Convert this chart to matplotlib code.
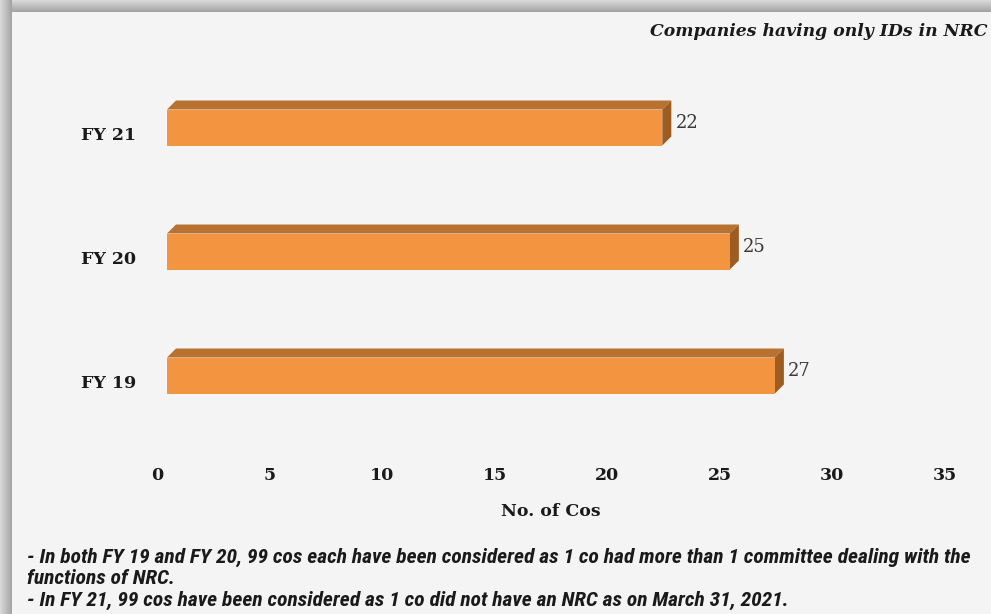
import numpy as np
import matplotlib.pyplot as plt
from matplotlib import font_manager as fm
from matplotlib.patches import Polygon, Rectangle
from matplotlib.transforms import ScaledTranslation

# data
categories = ["FY 19", "FY 20", "FY 21"]
cos_count = [27, 25, 22]
x_ticks = [0, 5, 10, 15, 20, 25, 30, 35]
title = "Companies having only IDs in NRC"
notes = [
    "- In both FY 19 and FY 20, 99 cos each have been considered as 1 co had more than 1 committee dealing with the",
    "functions of NRC.",
    "- In FY 21, 99 cos have been considered as 1 co did not have an NRC as on March 31, 2021.",
]

W, H, DPI = 991, 614, 100
serif = ["DejaVu Serif"]

# pick a narrow sans for the footnotes if one is around
installed = {f.name for f in fm.fontManager.ttflist}
narrow_name = "DejaVu Sans"
for cand in ["Liberation Sans Narrow", "Roboto Condensed", "Open Sans Condensed",
             "Noto Sans Condensed", "DejaVu Sans Condensed", "Arial Narrow"]:
    if cand in installed:
        narrow_name = cand
        break
narrow = [narrow_name, "DejaVu Sans"]

fig = plt.figure(figsize=(W / DPI, H / DPI), dpi=DPI)
fig.patch.set_facecolor("#f4f4f4")

# frame with shaded top and left border
bg = fig.add_axes([0, 0, 1, 1], zorder=-5)
bg.set_xlim(0, W)
bg.set_ylim(H, 0)
bg.axis("off")
grad = np.linspace(0.85, 0.64, 12)
bg.imshow(grad[:, None], cmap="gray", vmin=0, vmax=1, aspect="auto",
          extent=(0, W, 12, 0))
bg.imshow(grad[None, :], cmap="gray", vmin=0, vmax=1, aspect="auto",
          extent=(0, 12, H, 0))
bg.add_patch(Rectangle((12, 12), W - 12, H - 12, facecolor="#f4f4f4",
                       edgecolor="none"))

# plotting area
ax = fig.add_axes([157 / W, 171 / H, 788 / W, 372 / H])
ax.set_facecolor("none")
ax.set_xlim(0, 35)
ax.set_ylim(-0.5, 2.5)
for s in ax.spines.values():
    s.set_visible(False)

ux = 788 / 35          # pixels per x unit
uy = 372 / 3           # pixels per category
ddx, ddy = 9 / ux, 9 / uy   # bar depth
h = 36 / uy                 # bar thickness
shift = ax.transData + ScaledTranslation(10 / DPI, 5.5 / DPI, fig.dpi_scale_trans)

front_c, top_c, side_c = "#f29440", "#b8712f", "#9d5d22"
for pos, val in enumerate(cos_count):
    y0, y1 = pos - h / 2, pos + h / 2
    ax.add_patch(Polygon([(0, y1), (val, y1), (val + ddx, y1 + ddy), (ddx, y1 + ddy)],
                         closed=True, facecolor=top_c, edgecolor="none", transform=shift))
    ax.add_patch(Polygon([(val, y0), (val + ddx, y0 + ddy), (val + ddx, y1 + ddy), (val, y1)],
                         closed=True, facecolor=side_c, edgecolor="none", transform=shift))
    ax.add_patch(Polygon([(0, y0), (val, y0), (val, y1), (0, y1)],
                         closed=True, facecolor=front_c, edgecolor="none", transform=shift))
    ax.annotate(str(val), xy=(val + ddx, pos + ddy / 2), xycoords=shift,
                xytext=(4, 0), textcoords="offset pixels", ha="left", va="center",
                fontsize=13, family=serif, fontweight="medium", color="#3a3a3a")

ax.set_xticks(x_ticks)
ax.set_xticklabels([str(t) for t in x_ticks], family=serif, fontweight="bold",
                   fontsize=12.5, color="#1a1a1a")
ax.set_yticks(range(len(categories)))
ax.set_yticklabels(categories, family=serif, fontweight="bold",
                   fontsize=12.5, color="#1a1a1a")
ax.tick_params(axis="x", length=0, pad=17)
ax.tick_params(axis="y", length=0, pad=15)
ax.set_xlabel("No. of Cos", family=serif, fontweight="bold", fontsize=12.5,
              color="#1a1a1a", labelpad=14)

fig.text(988 / W, 1 - 31 / H, title, ha="right", va="center", family=serif,
         fontweight="bold", style="italic", fontsize=12.4, color="#1a1a1a")

note_texts = []
for i, line in enumerate(notes):
    note_texts.append(fig.text(27 / W, 1 - (557 + 21.5 * i) / H, line, ha="left",
                               va="center", family=narrow, fontweight="bold",
                               style="italic", fontsize=13.5, color="#1a1a1a"))

# size the footnotes so the long line spans about 945 px
renderer = fig.canvas.get_renderer()
wide = note_texts[0].get_window_extent(renderer).width
size = min(13.5 * 945 / wide, 16)
for t in note_texts:
    t.set_fontsize(size)

fig.savefig("out.png", dpi=DPI, facecolor=fig.get_facecolor())
